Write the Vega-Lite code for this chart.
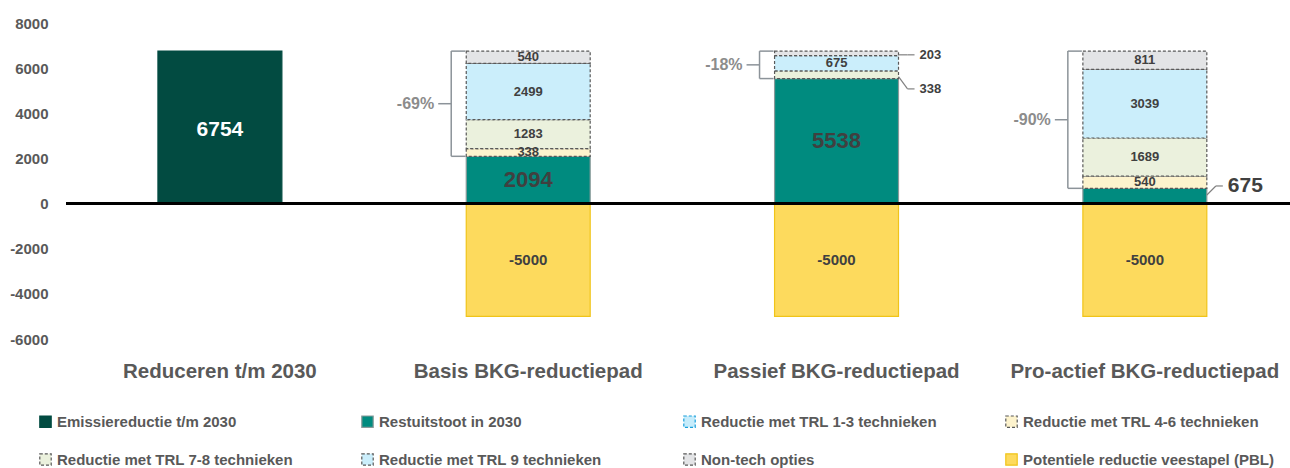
{
  "$schema": "https://vega.github.io/schema/vega-lite/v6.json",
  "width": 1224,
  "height": 316,
  "autosize": {"type": "none"},
  "padding": {"left": 66, "top": 23, "right": 0, "bottom": 129},
  "background": "white",
  "config": {"font": "Liberation Sans", "view": {"stroke": null}},
  "datasets": {
    "bars": [
      {"cat": "Reduceren t/m 2030", "series": "Emissiereductie t/m 2030", "value": 6754},
      {"cat": "Basis BKG-reductiepad", "series": "Restuitstoot in 2030", "value": 2094},
      {"cat": "Basis BKG-reductiepad", "series": "Reductie met TRL 4-6 technieken", "value": 338},
      {"cat": "Basis BKG-reductiepad", "series": "Reductie met TRL 7-8 technieken", "value": 1283},
      {"cat": "Basis BKG-reductiepad", "series": "Reductie met TRL 9 technieken", "value": 2499},
      {"cat": "Basis BKG-reductiepad", "series": "Non-tech opties", "value": 540},
      {"cat": "Basis BKG-reductiepad", "series": "Potentiele reductie veestapel (PBL)", "value": -5000},
      {"cat": "Passief BKG-reductiepad", "series": "Restuitstoot in 2030", "value": 5538},
      {"cat": "Passief BKG-reductiepad", "series": "Reductie met TRL 7-8 technieken", "value": 338},
      {"cat": "Passief BKG-reductiepad", "series": "Reductie met TRL 9 technieken", "value": 675},
      {"cat": "Passief BKG-reductiepad", "series": "Non-tech opties", "value": 203},
      {"cat": "Passief BKG-reductiepad", "series": "Potentiele reductie veestapel (PBL)", "value": -5000},
      {"cat": "Pro-actief BKG-reductiepad", "series": "Restuitstoot in 2030", "value": 675},
      {"cat": "Pro-actief BKG-reductiepad", "series": "Reductie met TRL 4-6 technieken", "value": 540},
      {"cat": "Pro-actief BKG-reductiepad", "series": "Reductie met TRL 7-8 technieken", "value": 1689},
      {"cat": "Pro-actief BKG-reductiepad", "series": "Reductie met TRL 9 technieken", "value": 3039},
      {"cat": "Pro-actief BKG-reductiepad", "series": "Non-tech opties", "value": 811},
      {"cat": "Pro-actief BKG-reductiepad", "series": "Potentiele reductie veestapel (PBL)", "value": -5000}
    ],
    "braces": [
      {"cat": "Basis BKG-reductiepad", "lo": 2094, "hi": 6754, "pct": "-69%"},
      {"cat": "Passief BKG-reductiepad", "lo": 5538, "hi": 6754, "pct": "-18%"},
      {"cat": "Pro-actief BKG-reductiepad", "lo": 675, "hi": 6754, "pct": "-90%"}
    ],
    "callouts": [
      {"cat": "Passief BKG-reductiepad", "at": 6590, "lab": 6590, "text": "203"},
      {"cat": "Passief BKG-reductiepad", "at": 5620, "lab": 5080, "text": "338"},
      {"cat": "Pro-actief BKG-reductiepad", "at": 380, "lab": 780, "text": "675"}
    ]
  },
  "layer": [
    {
      "data": {"name": "bars"},
      "transform": [
        {"calculate": "indexof(['Emissiereductie t/m 2030','Restuitstoot in 2030','Reductie met TRL 1-3 technieken','Reductie met TRL 4-6 technieken','Reductie met TRL 7-8 technieken','Reductie met TRL 9 technieken','Non-tech opties','Potentiele reductie veestapel (PBL)'], datum.series)", "as": "ord"},
        {"stack": "value", "groupby": ["cat"], "sort": [{"field": "ord", "order": "ascending"}], "as": ["v0", "v1"]},
        {"calculate": "(datum.v0 + datum.v1) / 2", "as": "mid"},
        {"calculate": "toString(datum.value)", "as": "vlabel"}
      ],
      "layer": [
        {
          "mark": {"type": "bar", "strokeWidth": 1.2},
          "encoding": {
            "x": {"field": "cat", "type": "nominal", "title": null, "sort": ["Reduceren t/m 2030", "Basis BKG-reductiepad", "Passief BKG-reductiepad", "Pro-actief BKG-reductiepad"],
                  "scale": {"domain": ["Reduceren t/m 2030", "Basis BKG-reductiepad", "Passief BKG-reductiepad", "Pro-actief BKG-reductiepad"], "paddingInner": 0.598, "paddingOuter": 0.284, "align": 0.525},
                  "axis": {"orient": "bottom", "domain": false, "ticks": false, "labelAngle": 0, "labelFontSize": 20.5, "labelFontWeight": "bold", "labelColor": "#595959", "labelPadding": 22, "labelLimit": 400}},
            "y": {"field": "v0", "type": "quantitative", "title": null,
                  "scale": {"domain": [-6000, 8000], "nice": false, "zero": false},
                  "axis": {"values": [-6000, -4000, -2000, 0, 2000, 4000, 6000, 8000], "labelExpr": "toString(datum.value)", "domain": false, "ticks": false, "grid": false, "labelFontSize": 15, "labelFontWeight": "bold", "labelColor": "#595959", "labelPadding": 18}},
            "y2": {"field": "v1"},
            "color": {"field": "series", "type": "nominal", "title": null,
                      "scale": {"domain": ["Emissiereductie t/m 2030", "Restuitstoot in 2030", "Reductie met TRL 1-3 technieken", "Reductie met TRL 4-6 technieken", "Reductie met TRL 7-8 technieken", "Reductie met TRL 9 technieken", "Non-tech opties", "Potentiele reductie veestapel (PBL)"],
                                "range": ["#024b41", "#008b7f", "#c6ecfb", "#fdf3cd", "#ebf1dd", "#cbeefb", "#e3e4e6", "#fdda5d"]},
                      "legend": {"orient": "none", "legendX": -28, "legendY": 391, "direction": "horizontal", "columns": 4, "gridAlign": "all", "columnPadding": 51, "rowPadding": 21, "symbolType": "square", "symbolSize": 130, "symbolStrokeWidth": 1.2, "labelFontSize": 15, "labelFontWeight": "bold", "labelColor": "#595959", "labelLimit": 400, "labelOffset": 4}},
            "stroke": {"field": "series", "type": "nominal", "title": null,
                       "scale": {"domain": ["Emissiereductie t/m 2030", "Restuitstoot in 2030", "Reductie met TRL 1-3 technieken", "Reductie met TRL 4-6 technieken", "Reductie met TRL 7-8 technieken", "Reductie met TRL 9 technieken", "Non-tech opties", "Potentiele reductie veestapel (PBL)"],
                                 "range": ["#024b41", "#8a9a9a", "#1aa0dc", "#595959", "#595959", "#595959", "#595959", "#f0c419"]},
                       "legend": {"orient": "none", "legendX": -28, "legendY": 391, "direction": "horizontal", "columns": 4, "gridAlign": "all", "columnPadding": 51, "rowPadding": 21, "symbolType": "square", "symbolSize": 130, "symbolStrokeWidth": 1.2, "labelFontSize": 15, "labelFontWeight": "bold", "labelColor": "#595959", "labelLimit": 400, "labelOffset": 4}},
            "strokeDash": {"field": "series", "type": "nominal", "title": null,
                           "scale": {"domain": ["Emissiereductie t/m 2030", "Restuitstoot in 2030", "Reductie met TRL 1-3 technieken", "Reductie met TRL 4-6 technieken", "Reductie met TRL 7-8 technieken", "Reductie met TRL 9 technieken", "Non-tech opties", "Potentiele reductie veestapel (PBL)"],
                                     "range": [[1, 0], [1, 0], [3, 2], [3, 2], [3, 2], [3, 2], [3, 2], [1, 0]]},
                           "legend": {"orient": "none", "legendX": -28, "legendY": 391, "direction": "horizontal", "columns": 4, "gridAlign": "all", "columnPadding": 51, "rowPadding": 21, "symbolType": "square", "symbolSize": 130, "symbolStrokeWidth": 1.2, "labelFontSize": 15, "labelFontWeight": "bold", "labelColor": "#595959", "labelLimit": 400, "labelOffset": 4}}
          }
        },
        {
          "transform": [{"filter": "datum.series != 'Emissiereductie t/m 2030' && datum.series != 'Restuitstoot in 2030' && datum.series != 'Potentiele reductie veestapel (PBL)' && !(datum.cat == 'Passief BKG-reductiepad' && datum.series != 'Reductie met TRL 9 technieken')"}],
          "mark": {"type": "text", "fontSize": 13, "fontWeight": "bold", "color": "#404040", "baseline": "middle"},
          "encoding": {
            "x": {"field": "cat", "type": "nominal", "title": null},
            "y": {"field": "mid", "type": "quantitative", "title": null},
            "text": {"field": "vlabel"}
          }
        },
        {
          "transform": [{"filter": "datum.series == 'Restuitstoot in 2030' && datum.cat != 'Pro-actief BKG-reductiepad'"}],
          "mark": {"type": "text", "fontSize": 22, "fontWeight": "bold", "color": "#404040", "baseline": "middle"},
          "encoding": {
            "x": {"field": "cat", "type": "nominal", "title": null},
            "y": {"field": "mid", "type": "quantitative", "title": null},
            "text": {"field": "vlabel"}
          }
        },
        {
          "transform": [{"filter": "datum.series == 'Emissiereductie t/m 2030'"}],
          "mark": {"type": "text", "fontSize": 21, "fontWeight": "bold", "color": "white", "baseline": "middle", "dy": 3},
          "encoding": {
            "x": {"field": "cat", "type": "nominal", "title": null},
            "y": {"field": "mid", "type": "quantitative", "title": null},
            "text": {"field": "vlabel"}
          }
        },
        {
          "transform": [{"filter": "datum.series == 'Potentiele reductie veestapel (PBL)'"}],
          "mark": {"type": "text", "fontSize": 15, "fontWeight": "bold", "color": "#404040", "baseline": "middle"},
          "encoding": {
            "x": {"field": "cat", "type": "nominal", "title": null},
            "y": {"field": "mid", "type": "quantitative", "title": null},
            "text": {"field": "vlabel"}
          }
        },
        {
          "mark": {"type": "rule", "color": "black", "strokeWidth": 2},
          "encoding": {"y": {"datum": 0, "type": "quantitative", "title": null}}
        }
      ]
    },
    {
      "data": {"name": "braces"},
      "transform": [{"calculate": "(datum.lo + datum.hi) / 2", "as": "mid"}],
      "layer": [
        {
          "mark": {"type": "rule", "xOffset": -77, "color": "#8c9399", "strokeWidth": 1.5},
          "encoding": {
            "x": {"field": "cat", "type": "nominal", "title": null},
            "y": {"field": "lo", "type": "quantitative", "title": null},
            "y2": {"field": "hi"}
          }
        },
        {
          "mark": {"type": "rule", "xOffset": -77, "x2Offset": -63, "color": "#8c9399", "strokeWidth": 1.5},
          "encoding": {
            "x": {"field": "cat", "type": "nominal", "title": null},
            "x2": {"field": "cat"},
            "y": {"field": "hi", "type": "quantitative", "title": null}
          }
        },
        {
          "mark": {"type": "rule", "xOffset": -77, "x2Offset": -63, "color": "#8c9399", "strokeWidth": 1.5},
          "encoding": {
            "x": {"field": "cat", "type": "nominal", "title": null},
            "x2": {"field": "cat"},
            "y": {"field": "lo", "type": "quantitative", "title": null}
          }
        },
        {
          "mark": {"type": "rule", "xOffset": -90, "x2Offset": -77, "color": "#8c9399", "strokeWidth": 1.5},
          "encoding": {
            "x": {"field": "cat", "type": "nominal", "title": null},
            "x2": {"field": "cat"},
            "y": {"field": "mid", "type": "quantitative", "title": null}
          }
        },
        {
          "mark": {"type": "text", "align": "right", "baseline": "middle", "xOffset": -94, "fontSize": 16, "fontWeight": "bold", "color": "#8c8c8c"},
          "encoding": {
            "x": {"field": "cat", "type": "nominal", "title": null},
            "y": {"field": "mid", "type": "quantitative", "title": null},
            "text": {"field": "pct"}
          }
        }
      ]
    },
    {
      "data": {"name": "callouts"},
      "layer": [
        {
          "mark": {"type": "rule", "xOffset": 62, "x2Offset": 71, "color": "#808080", "strokeWidth": 1.2},
          "encoding": {
            "x": {"field": "cat", "type": "nominal", "title": null},
            "x2": {"field": "cat"},
            "y": {"field": "at", "type": "quantitative", "title": null},
            "y2": {"field": "lab"}
          }
        },
        {
          "mark": {"type": "rule", "xOffset": 71, "x2Offset": 78, "color": "#808080", "strokeWidth": 1.2},
          "encoding": {
            "x": {"field": "cat", "type": "nominal", "title": null},
            "x2": {"field": "cat"},
            "y": {"field": "lab", "type": "quantitative", "title": null}
          }
        },
        {
          "mark": {"type": "text", "align": "left", "baseline": "middle", "xOffset": 83, "fontWeight": "bold", "color": "#404040"},
          "encoding": {
            "x": {"field": "cat", "type": "nominal", "title": null},
            "y": {"field": "lab", "type": "quantitative", "title": null},
            "text": {"field": "text"},
            "size": {"condition": {"test": "datum.text == '675'", "value": 21}, "value": 13}
          }
        }
      ]
    }
  ]
}
